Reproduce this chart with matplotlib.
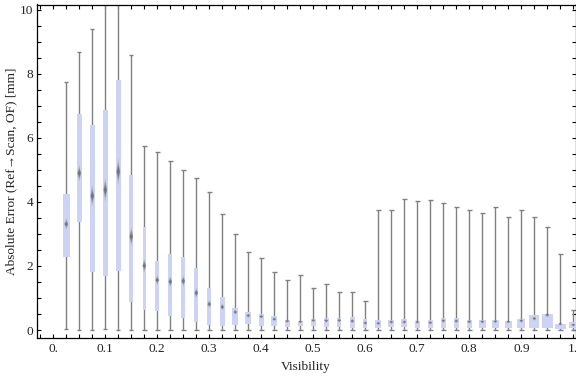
import numpy as np
import matplotlib
matplotlib.use("Agg")
import matplotlib.pyplot as plt
from matplotlib.ticker import MultipleLocator, FixedLocator, FixedFormatter

# visibility bins (box centres)
visibility = [0.025, 0.05, 0.075, 0.1, 0.125, 0.15, 0.175, 0.2, 0.225, 0.25,
              0.275, 0.3, 0.325, 0.35, 0.375, 0.4, 0.425, 0.45, 0.475, 0.5,
              0.525, 0.55, 0.575, 0.6, 0.625, 0.65, 0.675, 0.7, 0.725, 0.75,
              0.775, 0.8, 0.825, 0.85, 0.875, 0.9, 0.925, 0.95, 0.975, 1.0]

err_min = [0.02, 0.0, 0.0, 0.02, 0.0, 0.0, 0.0, 0.0, 0.0, 0.0,
           0.0, 0.0, 0.0, 0.0, 0.0, 0.0, 0.0, 0.0, 0.0, 0.0,
           0.0, 0.0, 0.0, 0.0, 0.0, 0.0, 0.0, 0.0, 0.0, 0.0,
           0.0, 0.0, 0.0, 0.0, 0.0, 0.0, 0.0, 0.0, 0.0, 0.0]

err_q1 = [2.29, 3.39, 1.82, 1.68, 1.85, 0.86, 0.64, 0.60, 0.45, 0.39,
          0.25, 0.17, 0.14, 0.17, 0.20, 0.14, 0.14, 0.10, 0.14, 0.14,
          0.08, 0.10, 0.07, 0.07, 0.07, 0.09, 0.09, 0.06, 0.06, 0.06,
          0.06, 0.06, 0.07, 0.07, 0.07, 0.07, 0.07, 0.07, 0.04, 0.07]

err_median = [3.31, 4.90, 4.19, 4.38, 4.95, 2.92, 2.01, 1.56, 1.51, 1.53,
              1.16, 0.81, 0.72, 0.56, 0.45, 0.42, 0.34, 0.28, 0.26, 0.30,
              0.29, 0.30, 0.28, 0.22, 0.21, 0.25, 0.25, 0.25, 0.23, 0.29,
              0.28, 0.26, 0.26, 0.27, 0.26, 0.29, 0.36, 0.47, 0.19, 0.16]

err_q3 = [4.25, 6.75, 6.40, 6.87, 7.80, 4.84, 3.23, 2.16, 2.38, 2.28,
          1.94, 1.31, 1.03, 0.69, 0.56, 0.50, 0.44, 0.31, 0.28, 0.34,
          0.38, 0.38, 0.42, 0.34, 0.31, 0.30, 0.34, 0.28, 0.31, 0.37,
          0.37, 0.31, 0.31, 0.31, 0.28, 0.34, 0.47, 0.50, 0.19, 0.25]

err_max = [7.74, 8.68, 9.42, 12.0, 12.0, 8.58, 5.74, 5.55, 5.27, 4.99,
           4.74, 4.30, 3.61, 2.99, 2.43, 2.24, 1.80, 1.56, 1.71, 1.30,
           1.43, 1.18, 1.18, 0.90, 3.74, 3.74, 4.08, 4.02, 4.05, 3.96,
           3.83, 3.74, 3.65, 3.83, 3.52, 3.74, 3.52, 3.21, 2.37, 0.62]

# box widths as drawn (pixels)
BOX_W_PX = [7, 5, 5, 5, 5, 4, 3.5, 4, 4, 4,
            4, 4, 4.5, 6, 6, 5, 6, 5, 5, 5,
            5, 4, 4.5, 4, 6, 6, 6, 5, 5, 5,
            5, 5, 7, 7, 7, 8, 10, 11, 11, 9]

BOX_COLOR = "#ccd3f4"
WHISKER = "#808080"
MEDIAN = "#666666"
FONT = "Liberation Serif"
FS = 9.6

W, H = 576, 377
fig = plt.figure(figsize=(W / 100, H / 100), dpi=100)
left, right, bottom, top = 36.5, 575.5, 337.5, 4.5
ax = fig.add_axes([left / W, (H - bottom) / H, (right - left) / W, (bottom - top) / H])

x0 = -0.0323
x1 = 1.0042
ax.set_xlim(x0, x1)
ax.set_ylim(-0.234, 10.17)
px = (x1 - x0) / (right - left)  # data units per pixel in x

x = np.array(visibility)
lo = np.array(err_min)
q1 = np.array(err_q1)
med = np.array(err_median)
q3 = np.array(err_q3)
hi = np.array(err_max)
widths = np.array(BOX_W_PX) * px

# whiskers with caps
ax.vlines(x, lo, hi, color=WHISKER, linewidth=1.0, zorder=2)
cap = 2.2 * px
ax.hlines(lo, x - cap, x + cap, color=WHISKER, linewidth=1.0, zorder=2)
ax.hlines(hi, x - cap, x + cap, color=WHISKER, linewidth=1.0, zorder=2)

# boxes
ax.bar(x, q3 - q1, bottom=q1, width=widths, color=BOX_COLOR,
       edgecolor="none", linewidth=0, zorder=3)

# median diamonds (soft, elongated)
for xi, m, a, b in zip(x, med, q1, q3):
    hh = 0.065 * (b - a) + 0.05
    for scale, alpha in [(1.0, 0.25), (0.65, 0.45), (0.35, 0.65)]:
        hw = 2.0 * px * (0.6 + 0.4 * scale)
        ax.fill([xi - hw, xi, xi + hw, xi], [m, m + hh * scale, m, m - hh * scale],
                color=MEDIAN, alpha=alpha, linewidth=0, zorder=4)

# frame and ticks (Mathematica style, inward on all sides)
for sp in ax.spines.values():
    sp.set_linewidth(0.9)
    sp.set_color("black")

major_x = [0.0, 0.1, 0.2, 0.3, 0.4, 0.5, 0.6, 0.7, 0.8, 0.9, 1.0]
major_x_labels = ["0.", "0.1", "0.2", "0.3", "0.4", "0.5", "0.6", "0.7", "0.8", "0.9", "1."]
ax.xaxis.set_major_locator(FixedLocator(major_x))
ax.xaxis.set_major_formatter(FixedFormatter(major_x_labels))
ax.xaxis.set_minor_locator(MultipleLocator(0.025))
ax.yaxis.set_major_locator(MultipleLocator(2))
ax.yaxis.set_minor_locator(MultipleLocator(0.5))

ax.tick_params(which="both", direction="in", top=True, right=True,
               length=3.2, width=0.8, color="black")
ax.tick_params(axis="x", which="major", pad=4.0, labelsize=FS, labelcolor="#222222")
ax.tick_params(axis="y", which="major", pad=2.5, labelsize=FS, labelcolor="#222222")
for lab in ax.get_xticklabels() + ax.get_yticklabels():
    lab.set_fontfamily(FONT)

ax.set_xlabel("Visibility", fontsize=FS, family=FONT, color="#222222")
ax.xaxis.set_label_coords(0.5, -0.072)
ax.set_ylabel("Absolute Error (Ref\u2192Scan, OF) [mm]", fontsize=FS, family=FONT,
              color="#222222")
ax.yaxis.set_label_coords(-0.036, 0.5)

plt.savefig("out.png", dpi=100)
plt.close(fig)
